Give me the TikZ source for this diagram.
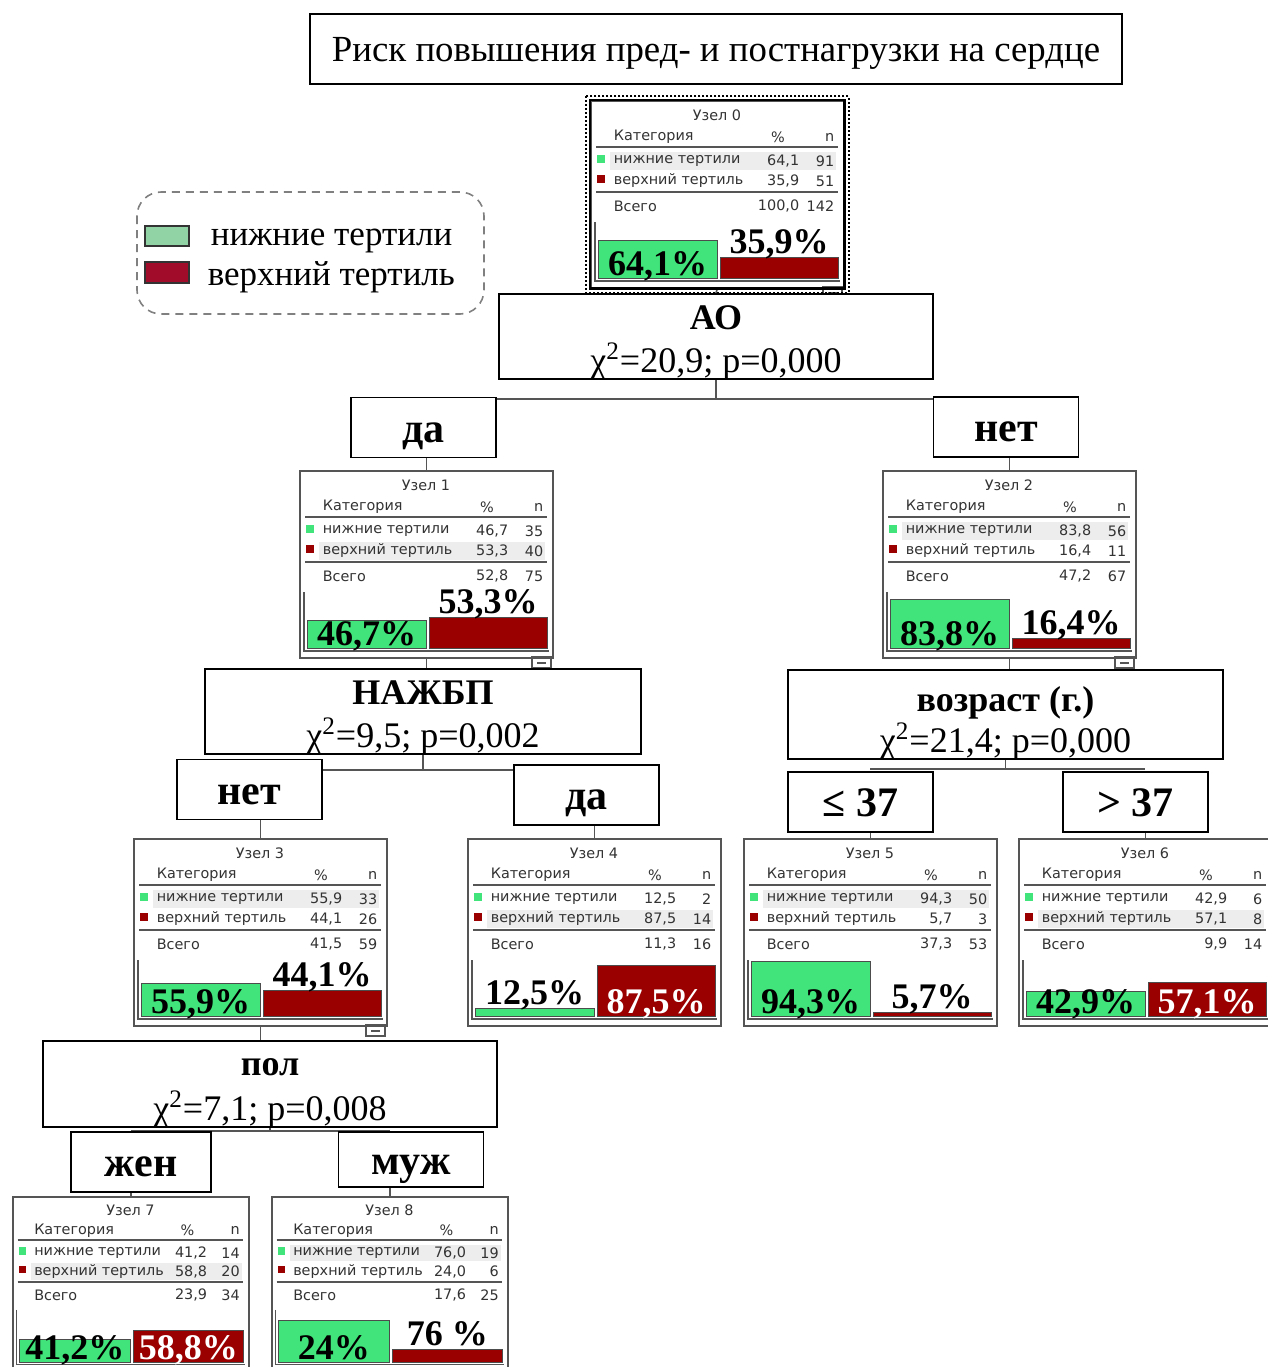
\documentclass[tikz,border=0pt]{standalone}
\usepackage{fontspec}
\setmainfont{Liberation Serif}
\newfontfamily\tabfont{DejaVu Sans}
\usetikzlibrary{backgrounds}
\definecolor{barG}{RGB}{64,228,122}
\definecolor{barR}{RGB}{155,0,0}
\definecolor{legG}{RGB}{146,211,166}
\definecolor{legR}{RGB}{160,12,42}
\definecolor{frame}{RGB}{85,85,85}
\colorlet{pcol0}{black}
\colorlet{pcol1}{black}
\colorlet{pcol2}{white}
\pgfkeys{/pgf/number format/.cd,fixed,precision=1,fixed zerofill,use comma,assume math mode=true}
\tikzset{
  box/.style={draw=black,line width=0.9pt,fill=white},
  ttl/.style={font=\fontsize{18.4}{21}\selectfont},
  splitname/.style={font=\bfseries\fontsize{18}{21}\selectfont,anchor=base,inner sep=0pt},
  stat/.style={font=\fontsize{18}{21}\selectfont,anchor=base,inner sep=0pt},
  branch/.style={box,font=\bfseries\fontsize{21}{24}\selectfont,minimum width=72.5pt,minimum height=30pt,
    text height=14.6pt,text depth=0pt},
  databox/.style={draw=frame,line width=0.8pt,fill=white,anchor=north west,inner sep=0pt},
  tab/.style={font=\tabfont\fontsize{7.2}{8}\selectfont,text=black!80,inner sep=0pt},
  pct/.style={font=\bfseries\fontsize{18}{21}\selectfont,anchor=base,inner sep=0pt},
  legtxt/.style={font=\fontsize{17.5}{20}\selectfont,anchor=base west,inner sep=0pt},
  link/.style={draw=frame,line width=0.8pt}
}
\begin{document}
\begin{tikzpicture}[x=0.5pt,y=-0.5pt,line width=0.8pt]
\useasboundingbox (0,0) rectangle (1268,1367);
% ---------- заголовок ----------
\node[box,ttl,line width=1pt,minimum width=406pt,minimum height=35pt,text height=14pt,text depth=2pt] (title) at (716,49)
  {Риск повышения пред- и постнагрузки на сердце};
% ---------- легенда ----------
\draw[gray,dash pattern=on 4pt off 3pt,rounded corners=12pt] (137,192) rectangle (484,314);
\filldraw[fill=legG,draw=black!80] (145,226) rectangle (189,246);
\filldraw[fill=legR,draw=black!80] (145,262) rectangle (189,283);
\node[legtxt] (legA) at (210,245) {нижние тертили};
\node[legtxt] (legB) at (207,285) {верхний тертиль};
% ---------- узлы дерева ----------
\foreach \nm/\xo/\yo/\sc/\nn/\gp/\gn/\rp/\rn/\tp/\tn/\gl/\gs/\rl/\rs/\ex in {
  n0/590/100/1/0/64.1/91/35.9/51/100/142/{64,1\%}/0/{35,9\%}/1/1,
  n1/299/470/1/1/46.7/35/53.3/40/52.8/75/{46,7\%}/0/{53,3\%}/1/1,
  n2/882/470/1/2/83.8/56/16.4/11/47.2/67/{83,8\%}/0/{16,4\%}/1/1,
  n3/133/838/1/3/55.9/33/44.1/26/41.5/59/{55,9\%}/0/{44,1\%}/1/1,
  n4/467/838/1/4/12.5/2/87.5/14/11.3/16/{12,5\%}/1/{87,5\%}/2/0,
  n5/743/838/1/5/94.3/50/5.7/3/37.3/53/{94,3\%}/0/{5,7\%}/1/0,
  n6/1018/838/1/6/42.9/6/57.1/8/9.9/14/{42,9\%}/0/{57,1\%}/2/0,
  n7/12/1196/0.933/7/41.2/14/58.8/20/23.9/34/{41,2\%}/0/{58,8\%}/2/0,
  n8/271/1196/0.933/8/76.0/19/24.0/6/17.6/25/{24\%}/0/{76 \%}/1/0}
{
\begin{scope}[shift={(\xo,\yo)},scale=\sc]
  \node[databox,minimum width=126.5pt*\sc,minimum height=93.5pt*\sc] (\nm) at (0,0) {};
  % строка большинства
  \pgfmathsetmacro\hy{\gp>\rp ? 61 : 81}
  \fill[gray!14] (20,\hy-9) rectangle (246,\hy+9);
  \node[tab] (\nm-t) at (127,15) {Узел \nn};
  \node[tab,anchor=west] (\nm-c) at (23,37) {Категория};
  \node[tab] (\nm-p) at (188,37) {\%};
  \node[tab,anchor=east] (\nm-m) at (245,37) {n};
  \draw[frame,line width=1pt] (6,47) -- (248,47);
  \fill[barG] (7,55) rectangle (15,63);
  \fill[barR] (7,75) rectangle (15,83);
  \node[tab,anchor=west] (\nm-a) at (23,61) {нижние тертили};
  \node[tab,anchor=east] (\nm-ap) at (210,61) {\pgfmathprintnumber{\gp}};
  \node[tab,anchor=east] (\nm-an) at (245,61) {\gn};
  \node[tab,anchor=west] (\nm-b) at (23,81) {верхний тертиль};
  \node[tab,anchor=east] (\nm-bp) at (210,81) {\pgfmathprintnumber{\rp}};
  \node[tab,anchor=east] (\nm-bn) at (245,81) {\rn};
  \draw[frame,line width=1pt] (6,92) -- (248,92);
  \node[tab,anchor=west] (\nm-s) at (23,106) {Всего};
  \node[tab,anchor=east] (\nm-sp) at (210,106) {\pgfmathprintnumber{\tp}};
  \node[tab,anchor=east] (\nm-sn) at (245,106) {\tn};
  % столбики
  \draw[frame,line width=0.6pt] (5,122) -- (5,181) -- (250,181);
  \filldraw[fill=barG,draw=black!70,line width=0.5pt] (8,178) rectangle (127,{178-0.58*\gp});
  \filldraw[fill=barR,draw=black!70,line width=0.5pt] (130,178) rectangle (248,{178-0.58*\rp});
  \pgfmathsetmacro\gy{\gs==1 ? 178-0.58*\gp-4 : 175}
  \pgfmathsetmacro\ry{\rs==1 ? 178-0.58*\rp-4 : 175}
  \node[pct,text=pcol\gs] (\nm-gl) at (67.5,\gy) {\gl};
  \node[pct,text=pcol\rs] (\nm-rl) at (189,\ry) {\rl};
  \ifnum\ex=1
    \draw[frame,line width=0.6pt] (233,187) rectangle (252,198);
    \draw[frame,line width=0.8pt] (238,193) -- (247,193);
  \fi
\end{scope}
}
% рамка корневого узла
\draw[black,line width=1.4pt] (n0.north west) rectangle (n0.south east);
\draw[black,densely dotted,line width=1pt] ([shift={(-2pt,2pt)}]n0.north west) rectangle ([shift={(2pt,-2pt)}]n0.south east);
% ---------- разбиения ----------
\node[box,minimum width=217pt,minimum height=42.5pt] (ao) at (716,336.5) {};
\node[splitname] (aoN) at (716,329) {АО};
\node[stat] (aoS) at (716,372) {χ\textsuperscript{2}=20,9; p=0,000};
\node[box,minimum width=218pt,minimum height=42.5pt] (nazh) at (423,711.5) {};
\node[splitname] (nazhN) at (423,704) {НАЖБП};
\node[stat] (nazhS) at (423,747) {χ\textsuperscript{2}=9,5; p=0,002};
\node[box,minimum width=217.5pt,minimum height=44.5pt] (age) at (1005.5,714.5) {};
\node[splitname] (ageN) at (1005.5,711) {возраст (г.)};
\node[stat] (ageS) at (1005.5,752) {χ\textsuperscript{2}=21,4; p=0,000};
\node[box,minimum width=227pt,minimum height=43pt] (sex) at (270,1084) {};
\node[splitname] (sexN) at (270,1075) {пол};
\node[stat] (sexS) at (270,1120) {χ\textsuperscript{2}=7,1; p=0,008};
% ветви
\node[branch] (yes1) at (423.5,427.5) {да};
\node[branch] (no2) at (1006,427) {нет};
\node[branch] (no3) at (249.5,789.5) {нет};
\node[branch] (yes4) at (586.5,795) {да};
\node[branch] (le5) at (860.5,802) {≤ 37};
\node[branch] (gt6) at (1135.5,802) {> 37};
\node[branch,minimum width=70pt] (fem7) at (141,1162) {жен};
\node[branch,minimum height=27.5pt] (mal8) at (411,1159.5) {муж};
% ---------- связи ----------
\begin{scope}[on background layer]
\draw[link] (n0.south) -- (ao.north);
\draw[link] (ao.south) -- ++(0,19) coordinate (aoJ);
\draw[link] (n1.north |- aoJ) -- (n2.north |- aoJ);
\draw[link] (n1.north |- yes1.south) -- (n1.north);
\draw[link] (n2.north |- no2.south) -- (n2.north);
\draw[link] (n1.south) -- (n1.south |- nazh.north);
\draw[link] (n2.south) -- (n2.south |- age.north);
\draw[link] (nazh.south) -- ++(0,15) coordinate (nazhJ);
\draw[link] (n3.north |- nazhJ) -- (n4.north |- nazhJ);
\draw[link] (n3.north |- no3.south) -- (n3.north);
\draw[link] (n4.north |- yes4.south) -- (n4.north);
\draw[link] (age.south) -- ++(0,9) coordinate (ageJ);
\draw[link] (n5.north |- ageJ) -- (n6.north |- ageJ);
\draw[link] (n5.north |- le5.south) -- (n5.north);
\draw[link] (n6.north |- gt6.south) -- (n6.north);
\draw[link] (n3.south) -- (n3.south |- sex.north);
\draw[link] (sex.south) -- ++(0,3) coordinate (sexJ);
\draw[link] (n7.north |- sexJ) -- (n8.north |- sexJ);
\draw[link] (n7.north |- fem7.south) -- (n7.north);
\draw[link] (n8.north |- mal8.south) -- (n8.north);
\end{scope}
\end{tikzpicture}
\end{document}
